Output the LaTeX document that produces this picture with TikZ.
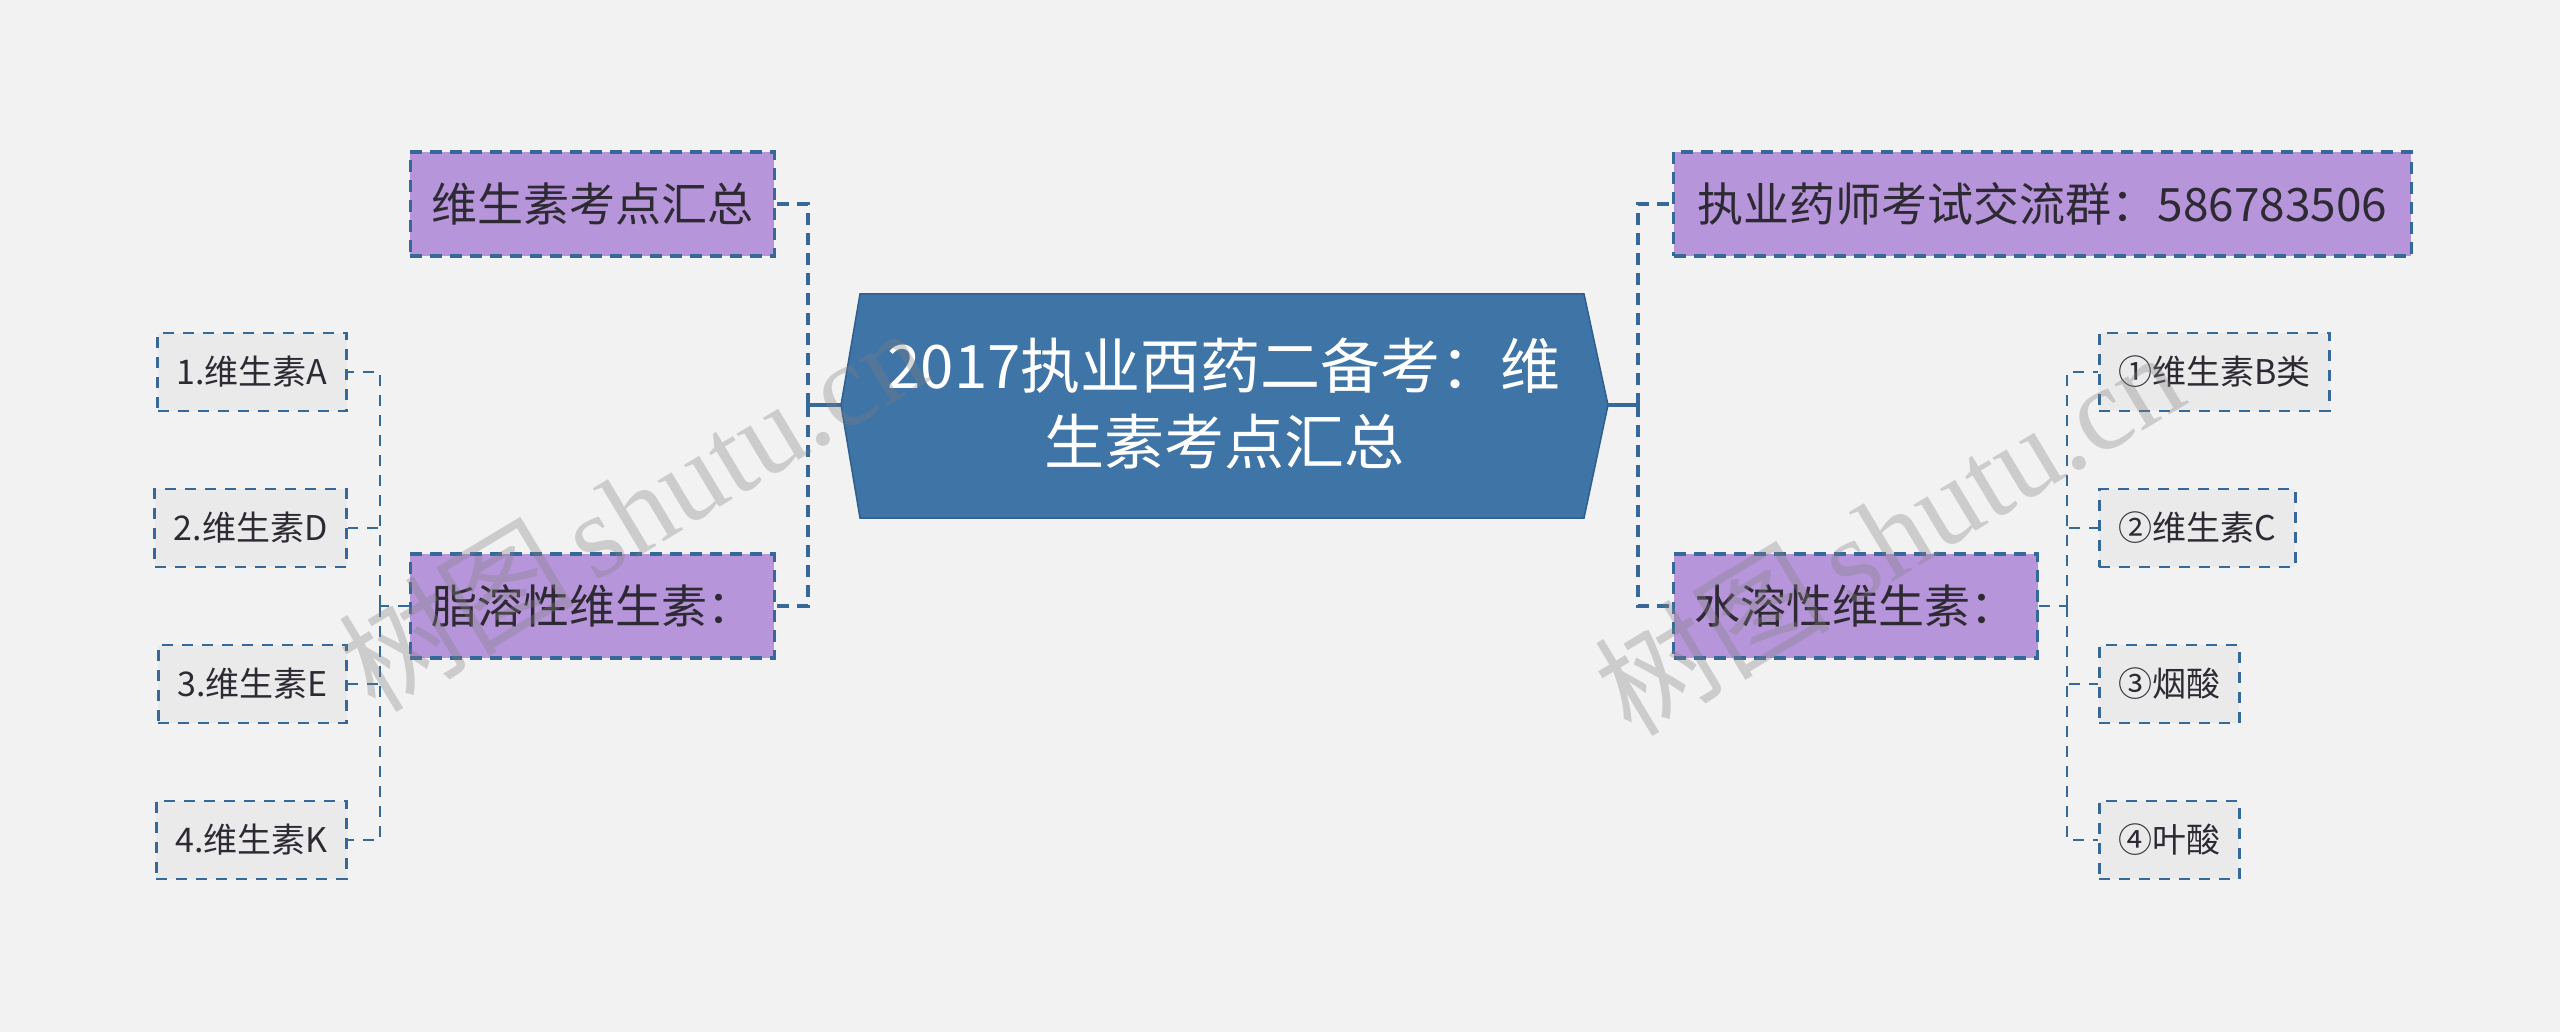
\documentclass[tikz,border=0pt]{standalone}
\usepackage{fontspec}
\newfontfamily\cjk{Noto Sans CJK SC}
\newfontfamily\wmserif{Liberation Serif}
\definecolor{bgc}{HTML}{F2F2F2}
\definecolor{linec}{HTML}{36689A}
\definecolor{hexc}{HTML}{3F74A6}
\definecolor{hexb}{HTML}{2F5F8F}
\definecolor{purp}{HTML}{B795DA}
\definecolor{leafc}{HTML}{EAEAEA}
\definecolor{txtc}{HTML}{2E2A33}
\begin{document}
\begin{tikzpicture}[x=1pt,y=-1pt,
  topicbox/.style={draw=linec,fill=purp,dash pattern=on 12pt off 8pt,line width=3.4pt,
    font=\cjk\fontsize{46}{54}\selectfont,text=txtc,inner xsep=21pt,minimum height=104pt},
  leafbox/.style={draw=linec,fill=leafc,dash pattern=on 11pt off 9pt,line width=2.8pt,
    font=\cjk\fontsize{34}{40}\selectfont,text=txtc,inner xsep=19pt,minimum height=78pt},
  solidlink/.style={draw=linec,line width=3.6pt},
  dashlink/.style={draw=linec,line width=3.4pt,dash pattern=on 12pt off 8pt},
  leaflink/.style={draw=linec,line width=2.8pt,dash pattern=on 11pt off 9pt},
  wm/.style={text=gray,opacity=0.33,rotate=31,font=\fontsize{118}{118}\selectfont}
]
\useasboundingbox[fill=bgc] (0,0) rectangle (2560,1032);

% central hexagon
\filldraw[fill=hexc,draw=hexb,line width=1.5pt] (860,294) -- (1584,294) -- (1608,405) -- (1584,518) -- (860,518) -- (841,405) -- cycle;
\node[font=\cjk\fontsize{60}{76}\selectfont,text=white,align=center] (hub) at (1224,404) {2017执业西药二备考：维\\生素考点汇总};
\coordinate (hubw) at (841,405);
\coordinate (hube) at (1608,405);
\coordinate (lj) at (808,405);
\coordinate (rj) at (1638,405);

% main topics
\node[topicbox,anchor=east] (t1) at (776,204) {维生素考点汇总};
\node[topicbox,anchor=east] (t2) at (776,606) {脂溶性维生素：};
\node[topicbox,anchor=west,inner xsep=24pt] (t3) at (1672,204) {执业药师考试交流群：586783506};
\node[topicbox,anchor=west] (t4) at (1672,606) {水溶性维生素：};

% leaves left
\node[leafbox,anchor=east] (a1) at (348,372) {1.维生素A};
\node[leafbox,anchor=east] (a2) at (348,528) {2.维生素D};
\node[leafbox,anchor=east] (a3) at (348,684) {3.维生素E};
\node[leafbox,anchor=east] (a4) at (348,840) {4.维生素K};
% leaves right
\node[leafbox,anchor=west] (b1) at (2098,372) {①维生素B类};
\node[leafbox,anchor=west] (b2) at (2098,528) {②维生素C};
\node[leafbox,anchor=west] (b3) at (2098,684) {③烟酸};
\node[leafbox,anchor=west] (b4) at (2098,840) {④叶酸};

\coordinate (lk) at (380,606);
\coordinate (rk) at (2067,606);

% connectors
\draw[solidlink] (hubw) -- (lj);
\draw[solidlink] (hube) -- (rj);
\draw[dashlink] (lj) |- (t1.east);
\draw[dashlink] (lj) |- (t2.east);
\draw[dashlink] (rj) |- (t3.west);
\draw[dashlink] (rj) |- (t4.west);

\draw[leaflink] (t2.west) -- (lk);
\foreach \n in {a1,a2,a3,a4} \draw[leaflink] (lk) |- (\n.east);
\draw[leaflink] (t4.east) -- (rk);
\foreach \n in {b1,b2,b3,b4} \draw[leaflink] (rk) |- (\n.west);

% watermarks (on top)
\node[wm] (wm1) at (632,508) {{\cjk 树图}\,{\wmserif shutu.cn}};
\node[wm] (wm2) at (1888,532) {{\cjk 树图}\,{\wmserif shutu.cn}};
\end{tikzpicture}
\end{document}
